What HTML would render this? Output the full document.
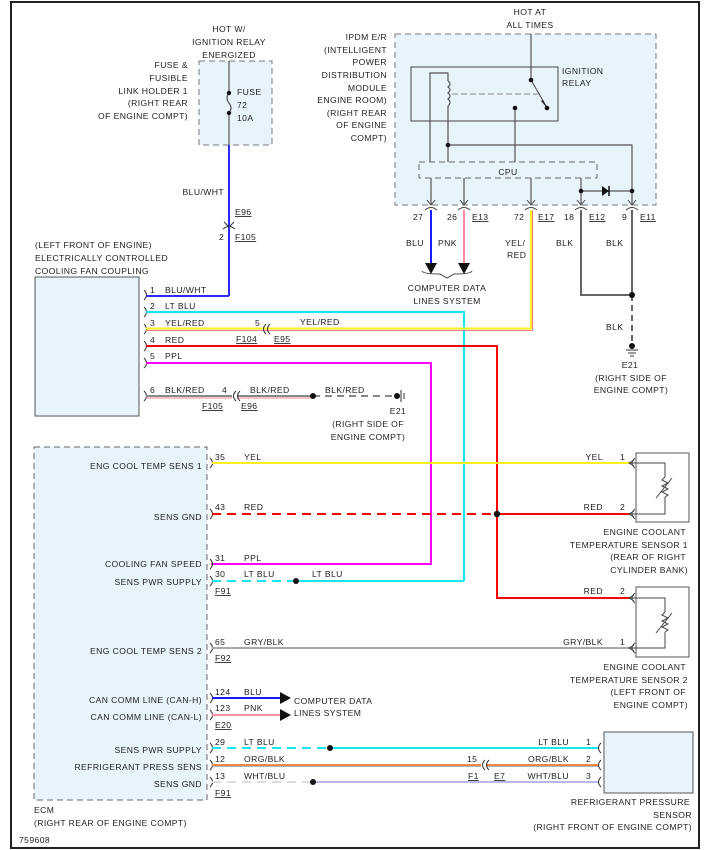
<!DOCTYPE html>
<html><head><meta charset="utf-8"><style>
html,body{margin:0;padding:0;background:#fff}
svg{display:block}
text{font-family:"Liberation Sans",sans-serif;font-size:8.6px;fill:#222;letter-spacing:0.4px}
.u{text-decoration:underline}
</style></head><body>
<svg width="704" height="850" viewBox="0 0 704 850" xmlns="http://www.w3.org/2000/svg">
<rect x="11" y="2" width="688" height="846" fill="#fff" stroke="#222" stroke-width="2"/>

<!-- Fuse box -->
<rect x="199" y="61" width="73" height="84" fill="#e8f4fb" stroke="#777" stroke-dasharray="6,4"/>
<line x1="229" y1="61" x2="229" y2="93" stroke="#555" stroke-width="1.2"/>
<line x1="229" y1="113" x2="229" y2="145" stroke="#555" stroke-width="1.2"/>
<path d="M229 93 Q225 98 229 103 Q233 108 229 113" fill="none" stroke="#555" stroke-width="1.2"/>
<circle cx="229" cy="93" r="2.2" fill="#111"/><circle cx="229" cy="113" r="2.2" fill="#111"/>
<text x="237" y="95">FUSE</text><text x="237" y="108">72</text><text x="237" y="121">10A</text>
<g text-anchor="middle"><text x="229" y="32">HOT W/</text><text x="229" y="45">IGNITION RELAY</text><text x="229" y="58">ENERGIZED</text></g>
<g text-anchor="end"><text x="188" y="68">FUSE &amp;</text><text x="188" y="81">FUSIBLE</text><text x="188" y="94">LINK HOLDER 1</text><text x="188" y="106">(RIGHT REAR</text><text x="188" y="119">OF ENGINE COMPT)</text></g>
<line x1="229" y1="145" x2="229" y2="296" stroke="#2b2bff" stroke-width="2"/>
<text x="224" y="195" text-anchor="end">BLU/WHT</text>
<path d="M224 222 L229 227 L234 222 M223 229 Q229 224 235 229" fill="none" stroke="#333"/>
<text x="235" y="215" class="u">E96</text><text x="219" y="240">2</text><text x="235" y="240" class="u">F105</text>

<!-- Fan coupling -->
<text x="35" y="248">(LEFT FRONT OF ENGINE)</text><text x="35" y="261">ELECTRICALLY CONTROLLED</text><text x="35" y="274">COOLING FAN COUPLING</text>
<rect x="35" y="277" width="104" height="139" fill="#e8f4fb" stroke="#555"/>
<g fill="none" stroke="#333">
<path d="M144 290 Q149 295 144 300"/><path d="M144 307 Q149 312 144 317"/><path d="M144 324 Q149 329 144 334"/><path d="M144 341 Q149 346 144 351"/><path d="M144 358 Q149 363 144 368"/><path d="M144 391 Q149 396 144 401"/>
</g>
<polyline points="146,296 229,296" fill="none" stroke="#2b2bff" stroke-width="2"/>
<polyline points="146,312 464,312 464,581" fill="none" stroke="#19e6f0" stroke-width="2.2"/>
<polyline points="146,328.5 531,328.5 531,210" fill="none" stroke="#ffee22" stroke-width="2"/>
<polyline points="146,330.5 532.5,330.5 532.5,210" fill="none" stroke="#f08080" stroke-width="1"/>
<polyline points="146,346 497,346 497,598 630,598" fill="none" stroke="#ff0000" stroke-width="2"/>
<polyline points="146,363 431,363 431,564 211,564" fill="none" stroke="#ff00ff" stroke-width="2"/>
<line x1="146" y1="396" x2="232" y2="396" stroke="#888" stroke-width="2"/><line x1="146" y1="398" x2="232" y2="398" stroke="#e88" stroke-width="1"/>
<line x1="237" y1="396" x2="313" y2="396" stroke="#888" stroke-width="2"/><line x1="237" y1="398" x2="313" y2="398" stroke="#e88" stroke-width="1"/>
<line x1="313" y1="396" x2="397" y2="396" stroke="#888" stroke-width="2" stroke-dasharray="7,5"/>
<circle cx="313" cy="396" r="3" fill="#111"/><circle cx="397" cy="396" r="3" fill="#111"/>
<path d="M401 390 V402 M404 393 V399" stroke="#333"/>
<g fill="none" stroke="#333"><path d="M266 324 Q261 329 266 334 M270 324 Q265 329 270 334"/><path d="M236 391 Q231 396 236 401 M240 391 Q235 396 240 401"/></g>
<text x="150" y="293">1</text><text x="165" y="293">BLU/WHT</text>
<text x="150" y="309">2</text><text x="165" y="309">LT BLU</text>
<text x="150" y="326">3</text><text x="165" y="326">YEL/RED</text><text x="255" y="326">5</text><text x="300" y="325">YEL/RED</text>
<text x="236" y="342" class="u">F104</text><text x="274" y="342" class="u">E95</text>
<text x="150" y="343">4</text><text x="165" y="343">RED</text>
<text x="150" y="359">5</text><text x="165" y="359">PPL</text>
<text x="150" y="393">6</text><text x="165" y="393">BLK/RED</text><text x="222" y="393">4</text><text x="250" y="393">BLK/RED</text><text x="325" y="393">BLK/RED</text>
<text x="202" y="409" class="u">F105</text><text x="241" y="409" class="u">E96</text>
<g text-anchor="middle"><text x="398" y="414">E21</text><text x="368" y="427">(RIGHT SIDE OF</text><text x="368" y="440">ENGINE COMPT)</text></g>

<!-- IPDM -->
<g text-anchor="middle"><text x="530" y="15">HOT AT</text><text x="530" y="28">ALL TIMES</text></g>
<g text-anchor="end"><text x="387" y="40">IPDM E/R</text><text x="387" y="53">(INTELLIGENT</text><text x="387" y="65">POWER</text><text x="387" y="78">DISTRIBUTION</text><text x="387" y="91">MODULE</text><text x="387" y="103">ENGINE ROOM)</text><text x="387" y="116">(RIGHT REAR</text><text x="387" y="128">OF ENGINE</text><text x="387" y="141">COMPT)</text></g>
<rect x="395" y="34" width="261" height="171" fill="#e8f4fb" stroke="#777" stroke-dasharray="6,4"/>
<rect x="411" y="67" width="147" height="54" fill="none" stroke="#444"/>
<text x="562" y="74">IGNITION</text><text x="562" y="86">RELAY</text>
<g fill="none" stroke="#555" stroke-width="1.2">
<line x1="531" y1="34" x2="531" y2="80"/>
<line x1="531" y1="80" x2="546" y2="106"/>
<line x1="515" y1="108" x2="515" y2="162"/>
<polyline points="430,162 430,73 448,73 448,81"/>
<path d="M448 81 Q452 84 448 87 Q452 90 448 93 Q452 96 448 99 Q452 102 448 106"/>
<line x1="448" y1="106" x2="448" y2="162"/>
<polyline points="448,145 632,145 632,205"/>
<line x1="581" y1="178" x2="581" y2="205"/>
<line x1="431" y1="178" x2="431" y2="205"/><line x1="464" y1="178" x2="464" y2="205"/><line x1="531" y1="178" x2="531" y2="205"/>
<line x1="581" y1="191" x2="632" y2="191"/>
</g>
<line x1="452" y1="94" x2="540" y2="94" stroke="#888" stroke-dasharray="6,3"/>
<path d="M541 101 L547 108 L543 100 Z" fill="#222"/>
<circle cx="531" cy="80" r="2.3" fill="#111"/><circle cx="547" cy="108" r="2.3" fill="#111"/><circle cx="515" cy="108" r="2.3" fill="#111"/><circle cx="448" cy="145" r="2.3" fill="#111"/>
<circle cx="581" cy="191" r="2.3" fill="#111"/><circle cx="632" cy="191" r="2.3" fill="#111"/>
<path d="M602 186 L609 191 L602 196 Z" fill="#111"/><line x1="609" y1="186" x2="609" y2="196" stroke="#111" stroke-width="1.5"/>
<rect x="419" y="162" width="178" height="16" fill="#e8f4fb" stroke="#666" stroke-dasharray="6,4"/>
<text x="508" y="175" text-anchor="middle">CPU</text>
<g fill="none" stroke="#444">
<path d="M427 200 L431 205 L435 200 M425 210 Q431 205 437 210"/>
<path d="M460 200 L464 205 L468 200 M458 210 Q464 205 470 210"/>
<path d="M527 200 L531 205 L535 200 M525 210 Q531 205 537 210"/>
<path d="M577 200 L581 205 L585 200 M575 210 Q581 205 587 210"/>
<path d="M628 200 L632 205 L636 200 M626 210 Q632 205 638 210"/>
</g>
<text x="413" y="220">27</text><text x="447" y="220">26</text><text x="472" y="220" class="u">E13</text>
<text x="514" y="220">72</text><text x="538" y="220" class="u">E17</text><text x="564" y="220">18</text><text x="589" y="220" class="u">E12</text><text x="622" y="220">9</text><text x="640" y="220" class="u">E11</text>
<line x1="431" y1="210" x2="431" y2="264" stroke="#1a1aff" stroke-width="2"/>
<line x1="464" y1="210" x2="464" y2="264" stroke="#ff8fa0" stroke-width="2"/>
<path d="M425 263 L437 263 L431 274 Z M458 263 L470 263 L464 274 Z" fill="#111"/>
<path d="M422 271 Q423 274 440 274 L447 278 L454 274 Q471 274 472 271" fill="none" stroke="#444"/>
<text x="406" y="246">BLU</text><text x="438" y="246">PNK</text>
<text x="505" y="246">YEL/</text><text x="507" y="258">RED</text>
<text x="556" y="246">BLK</text><text x="606" y="246">BLK</text>
<g text-anchor="middle"><text x="447" y="291">COMPUTER DATA</text><text x="447" y="304">LINES SYSTEM</text></g>
<polyline points="581,210 581,295 632,295" fill="none" stroke="#666" stroke-width="2"/>
<line x1="632" y1="210" x2="632" y2="295" stroke="#666" stroke-width="2"/>
<line x1="632" y1="295" x2="632" y2="345" stroke="#666" stroke-width="2" stroke-dasharray="6,4"/>
<circle cx="632" cy="295" r="3" fill="#111"/><circle cx="632" cy="346" r="3" fill="#111"/>
<path d="M626 350 H638 M628 353 H636 M630 356 H634" stroke="#333"/>
<text x="606" y="330">BLK</text>
<g text-anchor="middle"><text x="630" y="368">E21</text><text x="631" y="381">(RIGHT SIDE OF</text><text x="631" y="393">ENGINE COMPT)</text></g>

<!-- ECM -->
<rect x="34" y="447" width="173" height="353" fill="#e8f4fb" stroke="#666" stroke-dasharray="6,4"/>
<g text-anchor="end">
<text x="202" y="469">ENG COOL TEMP SENS 1</text><text x="202" y="520">SENS GND</text><text x="202" y="567">COOLING FAN SPEED</text><text x="202" y="585">SENS PWR SUPPLY</text>
<text x="202" y="654">ENG COOL TEMP SENS 2</text><text x="202" y="703">CAN COMM LINE (CAN-H)</text><text x="202" y="720">CAN COMM LINE (CAN-L)</text>
<text x="202" y="753">SENS PWR SUPPLY</text><text x="202" y="770">REFRIGERANT PRESS SENS</text><text x="202" y="787">SENS GND</text>
</g>
<text x="34" y="813">ECM</text><text x="34" y="826">(RIGHT REAR OF ENGINE COMPT)</text><text x="19" y="843">759608</text>
<g fill="none" stroke="#333">
<path d="M210 458 Q215 463 210 468"/><path d="M210 509 Q215 514 210 519"/><path d="M210 559 Q215 564 210 569"/><path d="M210 576 Q215 581 210 586"/><path d="M210 643 Q215 648 210 653"/><path d="M210 693 Q215 698 210 703"/><path d="M210 710 Q215 715 210 720"/><path d="M210 743 Q215 748 210 753"/><path d="M210 760 Q215 765 210 770"/><path d="M210 777 Q215 782 210 787"/>
</g>
<line x1="212" y1="463" x2="630" y2="463" stroke="#ffee22" stroke-width="2"/>
<line x1="212" y1="514" x2="497" y2="514" stroke="#ff0000" stroke-width="2" stroke-dasharray="9,6"/>
<line x1="497" y1="514" x2="630" y2="514" stroke="#ff0000" stroke-width="2"/>
<circle cx="497" cy="514" r="3.2" fill="#111"/>
<line x1="212" y1="581" x2="296" y2="581" stroke="#19e6f0" stroke-width="2" stroke-dasharray="9,6"/>
<line x1="296" y1="581" x2="464" y2="581" stroke="#19e6f0" stroke-width="2"/>
<circle cx="296" cy="581" r="3" fill="#111"/>
<line x1="212" y1="648" x2="630" y2="648" stroke="#aaa" stroke-width="2"/>
<line x1="212" y1="698" x2="280" y2="698" stroke="#1a1aff" stroke-width="2"/>
<line x1="212" y1="715" x2="280" y2="715" stroke="#ff8fa0" stroke-width="2"/>
<path d="M280 692 L291 698 L280 704 Z M280 709 L291 715 L280 721 Z" fill="#111"/>
<text x="294" y="704">COMPUTER DATA</text><text x="294" y="716">LINES SYSTEM</text>
<line x1="212" y1="748" x2="330" y2="748" stroke="#19e6f0" stroke-width="2" stroke-dasharray="9,6"/>
<line x1="330" y1="748" x2="598" y2="748" stroke="#19e6f0" stroke-width="2"/>
<circle cx="330" cy="748" r="3" fill="#111"/>
<line x1="212" y1="765" x2="481" y2="765" stroke="#f08a40" stroke-width="2"/><line x1="212" y1="766.5" x2="481" y2="766.5" stroke="#999" stroke-width="0.8"/>
<line x1="487" y1="765" x2="598" y2="765" stroke="#f08a40" stroke-width="2"/><line x1="487" y1="766.5" x2="598" y2="766.5" stroke="#999" stroke-width="0.8"/>
<g fill="none" stroke="#333"><path d="M485 760 Q480 765 485 770 M489 760 Q484 765 489 770"/></g>
<line x1="212" y1="782" x2="313" y2="782" stroke="#ddd" stroke-width="2" stroke-dasharray="9,6"/>
<line x1="313" y1="782" x2="598" y2="782" stroke="#a0a0e8" stroke-width="1.6"/>
<circle cx="313" cy="782" r="3" fill="#111"/>
<text x="215" y="460">35</text><text x="244" y="460">YEL</text>
<text x="215" y="510">43</text><text x="244" y="510">RED</text>
<text x="215" y="561">31</text><text x="244" y="561">PPL</text>
<text x="215" y="577">30</text><text x="244" y="577">LT BLU</text><text x="312" y="577">LT BLU</text><text x="215" y="594" class="u">F91</text>
<text x="215" y="645">65</text><text x="244" y="645">GRY/BLK</text><text x="215" y="661" class="u">F92</text>
<text x="215" y="695">124</text><text x="244" y="695">BLU</text>
<text x="215" y="711">123</text><text x="244" y="711">PNK</text><text x="215" y="728" class="u">E20</text>
<text x="215" y="745">29</text><text x="244" y="745">LT BLU</text>
<text x="215" y="762">12</text><text x="244" y="762">ORG/BLK</text>
<text x="215" y="779">13</text><text x="244" y="779">WHT/BLU</text><text x="215" y="796" class="u">F91</text>

<!-- Sensor 1 -->
<rect x="636" y="453" width="53" height="69" fill="#fff" stroke="#555"/>
<g fill="none" stroke="#444">
<path d="M635 458 Q629 463 635 468 M629 463 H665 V477 M665 497 V514 H629 M635 509 Q629 514 635 519"/>
<path d="M665 477 l-3 3 l6 3 l-6 3 l6 3 l-6 3 l6 3 l-3 2"/><path d="M656 498 L672 478"/>
<path d="M634 460 L629 463 L634 466 M634 511 L629 514 L634 517"/>
</g>
<text x="603" y="460" text-anchor="end">YEL</text><text x="620" y="460">1</text>
<text x="603" y="510" text-anchor="end">RED</text><text x="620" y="510">2</text>
<g text-anchor="end"><text x="686" y="535">ENGINE COOLANT</text><text x="688" y="548">TEMPERATURE SENSOR 1</text><text x="686" y="560">(REAR OF RIGHT</text><text x="688" y="573">CYLINDER BANK)</text></g>
<!-- Sensor 2 -->
<rect x="636" y="587" width="53" height="70" fill="#fff" stroke="#555"/>
<g fill="none" stroke="#444">
<path d="M635 593 Q629 598 635 603 M629 598 H665 V612 M665 632 V648 H629 M635 643 Q629 648 635 653"/>
<path d="M665 612 l-3 3 l6 3 l-6 3 l6 3 l-6 3 l6 3 l-3 2"/><path d="M656 633 L672 613"/>
<path d="M634 595 L629 598 L634 601 M634 645 L629 648 L634 651"/>
</g>
<text x="603" y="594" text-anchor="end">RED</text><text x="620" y="594">2</text>
<text x="603" y="645" text-anchor="end">GRY/BLK</text><text x="620" y="645">1</text>
<g text-anchor="end"><text x="686" y="670">ENGINE COOLANT</text><text x="688" y="683">TEMPERATURE SENSOR 2</text><text x="686" y="695">(LEFT FRONT OF</text><text x="688" y="708">ENGINE COMPT)</text></g>
<!-- Refrigerant sensor -->
<rect x="604" y="732" width="89" height="61" fill="#e8f4fb" stroke="#555"/>
<g fill="none" stroke="#333"><path d="M601 743 Q596 748 601 753 M601 760 Q596 765 601 770 M601 777 Q596 782 601 787"/></g>
<text x="569" y="745" text-anchor="end">LT BLU</text><text x="586" y="745">1</text>
<text x="569" y="762" text-anchor="end">ORG/BLK</text><text x="586" y="762">2</text>
<text x="569" y="779" text-anchor="end">WHT/BLU</text><text x="586" y="779">3</text>
<text x="467" y="762">15</text><text x="468" y="779" class="u">F1</text><text x="494" y="779" class="u">E7</text>
<g text-anchor="end"><text x="690" y="805">REFRIGERANT PRESSURE</text><text x="692" y="818">SENSOR</text><text x="692" y="830">(RIGHT FRONT OF ENGINE COMPT)</text></g>
</svg>
</body></html>
